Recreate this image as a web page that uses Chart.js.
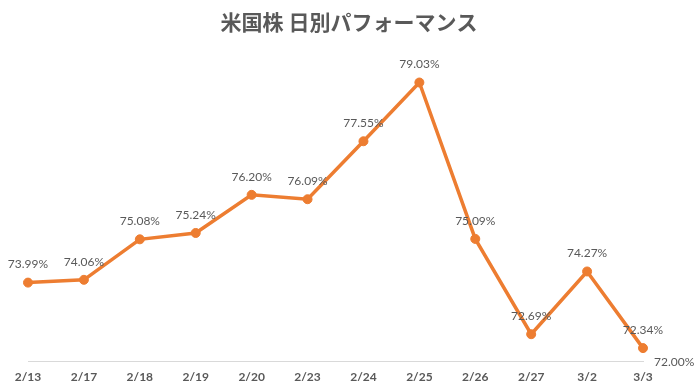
<!DOCTYPE html>
<html>
<head>
<meta charset="utf-8">
<script src="https://cdn.jsdelivr.net/npm/chart.js@4"></script>
<style>
  html, body { margin: 0; padding: 0; background: #ffffff; }
  #wrap { width: 698px; height: 392px; position: relative; }
</style>
</head>
<body>
<div id="wrap"><canvas id="perfChart"></canvas></div>
<script>
// dates on the x axis
let days = ["2/13", "2/17", "2/18", "2/19", "2/20", "2/23", "2/24", "2/25", "2/26", "2/27", "3/2", "3/3"];

// daily performance (%)
let performance = [73.99, 74.06, 75.08, 75.24, 76.20, 76.09, 77.55, 79.03, 75.09, 72.69, 74.27, 72.34];

// y range
let yMin = 72;
let yMax = 80;

let chartTitle = "米国株 日別パフォーマンス";

let textGray = "#595959";
let orange = "#ED7D31";
let labelFont = "12px Lato, 'Liberation Sans', sans-serif";

// title centred on the whole canvas (the built-in one centres on the padded area)
let centeredTitle = {
  id: "centeredTitle",
  afterDraw: function (chart) {
    let ctx = chart.ctx;
    ctx.save();
    ctx.font = "bold 21px 'Noto Sans CJK JP', sans-serif";
    ctx.fillStyle = textGray;
    ctx.textAlign = "center";
    ctx.textBaseline = "middle";
    ctx.fillText(chartTitle, chart.width / 2, 22);
    ctx.restore();
  },
};

// draws the value above each point, and the axis minimum at the right end of the baseline
let valueLabels = {
  id: "valueLabels",
  afterDatasetsDraw: function (chart) {
    let ctx = chart.ctx;
    let meta = chart.getDatasetMeta(0);
    ctx.save();
    ctx.font = labelFont;
    ctx.fillStyle = textGray;
    ctx.textAlign = "center";
    ctx.textBaseline = "middle";
    meta.data.forEach(function (pt, i) {
      ctx.fillText(performance[i].toFixed(2) + "%", pt.x, pt.y - 18);
    });
    // y axis minimum label
    ctx.textAlign = "left";
    ctx.fillText(yMin.toFixed(2) + "%", chart.chartArea.right + 11, chart.scales.y.getPixelForValue(yMin) + 1);
    ctx.restore();
  },
};

let context = document.querySelector("#perfChart").getContext("2d");

let perfChart = new Chart(context, {
  type: "line",
  data: {
    labels: days,
    datasets: [
      {
        data: performance,
        borderColor: orange,
        backgroundColor: orange,
        borderWidth: 3.5,
        pointRadius: 4.5,
        pointBorderWidth: 1,
        pointBackgroundColor: orange,
        pointBorderColor: orange,
        tension: 0,
      },
    ],
  },
  options: {
    responsive: true,
    maintainAspectRatio: false,
    animation: false,
    layout: {
      padding: { left: 28, right: 55, top: 44, bottom: 0 },
    },
    plugins: {
      legend: { display: false },
      tooltip: { enabled: false },
      title: { display: false },
    },
    scales: {
      x: {
        offset: false,
        grid: { display: false, drawTicks: false },
        border: { display: true, color: "#d9d9d9", width: 1 },
        ticks: {
          color: textGray,
          padding: 8,
          maxRotation: 0,
          autoSkip: false,
          font: { family: "Lato, 'Liberation Sans', sans-serif", size: 12, weight: "bold" },
        },
      },
      y: {
        display: false,
        min: yMin,
        max: yMax,
      },
    },
  },
  plugins: [valueLabels, centeredTitle],
});
</script>
</body>
</html>
